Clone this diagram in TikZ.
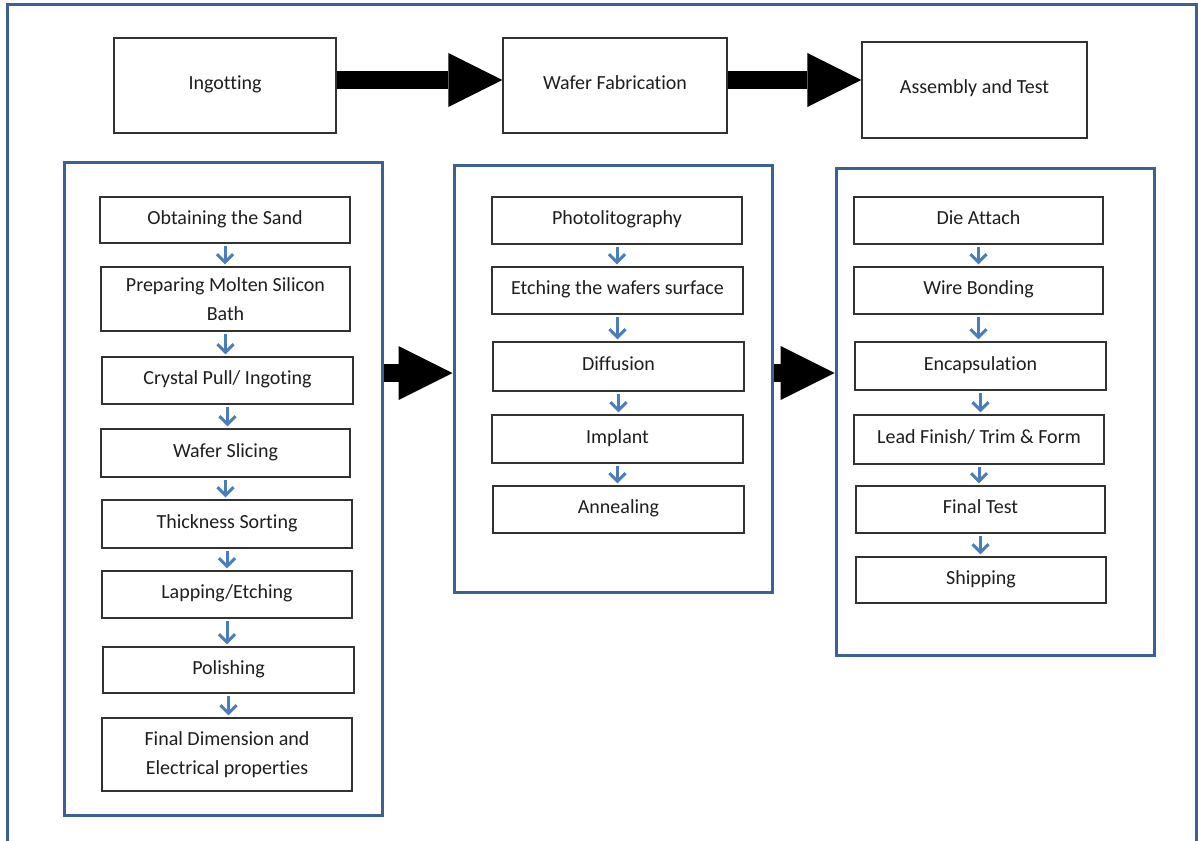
\documentclass[tikz,border=0pt]{standalone}
\usepackage{fontspec}
\setmainfont{Carlito}[Ligatures=NoCommon]
\usetikzlibrary{arrows.meta}

\definecolor{frameblue}{RGB}{58,96,148}
\definecolor{flowblue}{RGB}{74,126,187}
\definecolor{boxline}{RGB}{50,50,50}
\definecolor{inktext}{RGB}{30,30,30}

\tikzset{
  stage/.style={draw=boxline, line width=1.3pt, fill=white, inner sep=0pt,
    text=inktext, font=\fontsize{20}{29}\selectfont,
    text height=13pt, text depth=5pt},
  twoline/.style={align=center, text height={}, text depth={}},
  group/.style={draw=frameblue, line width=3pt, inner sep=0pt},
  bigflow/.style={line width=18pt, draw=black,
    -{Triangle[length=54pt,width=54pt,line width=0pt]}},
  stepflow/.style={draw=flowblue, line width=3pt,
    -{Straight Barb[length=8pt,width=16pt]}, shorten <=2pt, shorten >=2pt}
}

\begin{document}
\begin{tikzpicture}[x=1pt, y=-1pt]
\useasboundingbox (0,0) rectangle (1198,840);

% outer frame (its lower edge runs off the page)
\draw[draw=frameblue, line width=3pt] (7,5) rectangle (1196,870);

% row of main stages
\node[stage, minimum width=222pt, minimum height=95pt] (ing) at (225,85.5) {Ingotting};
\node[stage, minimum width=224pt, minimum height=95pt] (waf) at (615,85.5) {Wafer Fabrication};
\node[stage, minimum width=225pt, minimum height=96pt] (asm) at (974.5,90) {Assembly and Test};

\coordinate (toprow) at (0,80);
\coordinate (midrow) at (0,373);

\draw[bigflow] (ing.east |- toprow) -- (waf.west |- toprow);
\draw[bigflow] (waf.east |- toprow) -- (asm.west |- toprow);

% group frames
\node[group, minimum width=318pt, minimum height=653pt] (L) at (223,488.5) {};
\node[group, minimum width=318pt, minimum height=427pt] (M) at (613,378.5) {};
\node[group, minimum width=318pt, minimum height=487pt] (R) at (995,411.5) {};

\draw[bigflow] (L.east |- midrow) -- (M.west |- midrow);
\draw[bigflow] (M.east |- midrow) -- (R.west |- midrow);

% ingotting steps
\node[stage, minimum width=250pt, minimum height=46pt] (o1) at (225,220) {Obtaining the Sand};
\node[stage, twoline, minimum width=249pt, minimum height=64pt] (o2) at (225.5,299) {Preparing Molten Silicon\\Bath};
\node[stage, minimum width=251pt, minimum height=47pt] (o3) at (227.5,380.5) {Crystal Pull/ Ingoting};
\node[stage, minimum width=249pt, minimum height=48pt] (o4) at (225.5,453) {Wafer Slicing};
\node[stage, minimum width=250pt, minimum height=48pt] (o5) at (227,524) {Thickness Sorting};
\node[stage, minimum width=250pt, minimum height=47pt] (o6) at (227,594.5) {Lapping/Etching};
\node[stage, minimum width=251pt, minimum height=46pt] (o7) at (228.5,670) {Polishing};
\node[stage, twoline, minimum width=250pt, minimum height=73pt] (o8) at (227,754.5) {Final Dimension and\\Electrical properties};

% wafer fabrication steps
\node[stage, minimum width=250pt, minimum height=47pt] (m1) at (617,220.5) {Photolitography};
\node[stage, minimum width=251pt, minimum height=47pt] (m2) at (617.5,290.5) {Etching the wafers surface};
\node[stage, minimum width=251pt, minimum height=49pt] (m3) at (618.5,366.5) {Diffusion};
\node[stage, minimum width=251pt, minimum height=48pt] (m4) at (617.5,439) {Implant};
\node[stage, minimum width=251pt, minimum height=47pt] (m5) at (618.5,509.5) {Annealing};

% assembly and test steps
\node[stage, minimum width=249pt, minimum height=47pt] (r1) at (978.5,220.5) {Die Attach};
\node[stage, minimum width=249pt, minimum height=47pt] (r2) at (978.5,290.5) {Wire Bonding};
\node[stage, minimum width=251pt, minimum height=48pt] (r3) at (980.5,366) {Encapsulation};
\node[stage, minimum width=250pt, minimum height=49pt] (r4) at (979,439.5) {Lead Finish/ Trim \& Form};
\node[stage, minimum width=249pt, minimum height=47pt] (r5) at (980.5,509.5) {Final Test};
\node[stage, minimum width=250pt, minimum height=46pt] (r6) at (981,580) {Shipping};

% step-to-step arrows
\foreach \a/\b in {o1/o2,o2/o3,o3/o4,o4/o5,o5/o6,o6/o7,o7/o8,
                   m1/m2,m2/m3,m3/m4,m4/m5,
                   r1/r2,r2/r3,r3/r4,r4/r5,r5/r6}
  \draw[stepflow] (\a.south) -- (\a.south |- \b.north);
\end{tikzpicture}
\end{document}
